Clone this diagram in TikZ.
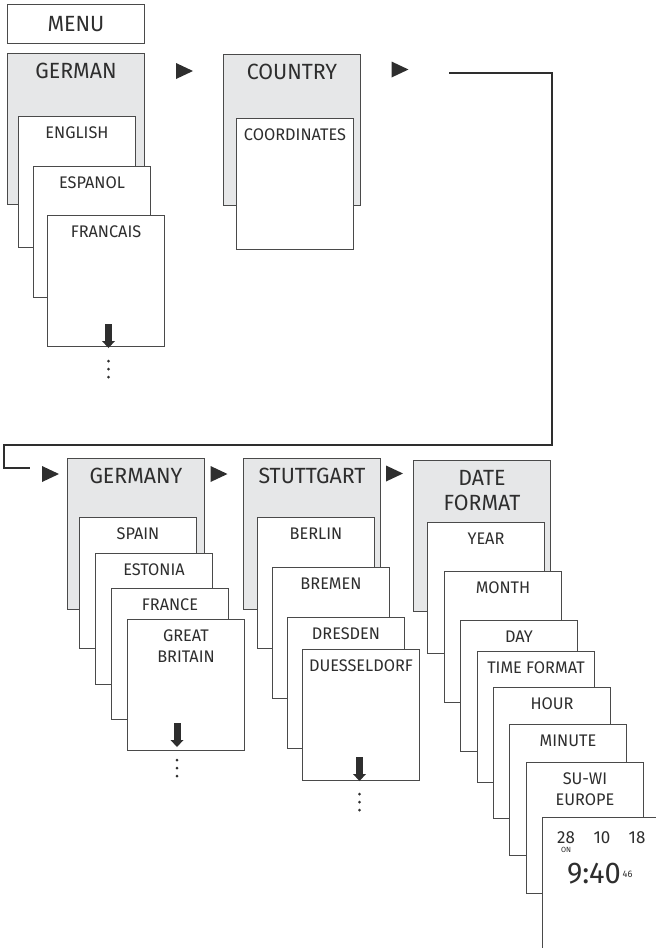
\documentclass[tikz,border=0pt]{standalone}
\usepackage{fontspec}
\setmainfont{Fira Sans}[FakeStretch=0.97]
\usetikzlibrary{positioning}
\definecolor{headgray}{HTML}{E6E7E8}
\definecolor{framegray}{HTML}{4A4A4A}
\definecolor{inkgray}{HTML}{2E2E2E}
\newcommand{\sheetSize}[0]{\fontsize{16.8}{21}\selectfont}
\newcommand{\headSize}[0]{\fontsize{22}{25}\selectfont}

\begin{document}
\begin{tikzpicture}[x=1pt, y=-1pt]
  \tikzset{
    menubox/.style={draw=framegray, line width=1pt, fill=white, minimum width=137pt, minimum height=39pt, inner sep=0pt, anchor=north west, font=\headSize, text=inkgray},
    headbox/.style={draw=framegray, line width=1pt, fill=headgray, minimum width=137pt, minimum height=151pt, inner sep=0pt, anchor=north west, label={[headtext]north:#1}},
    sheet/.style={draw=framegray, line width=1pt, fill=white, minimum width=117pt, minimum height=131pt, inner sep=0pt, anchor=north west, label={[sheettext]north:#1}},
    headtext/.style={anchor=north, inner sep=0pt, yshift=-10pt, align=center, font=\headSize, text=inkgray},
    sheettext/.style={anchor=north, inner sep=0pt, yshift=-11pt, align=center, font=\sheetSize, text=inkgray},
    wrapline/.style={draw=inkgray, line width=2pt},
    lcd/.style={anchor=base, inner sep=0pt, text=inkgray},
    pics/nexttri/.style={code={\fill[inkgray] (-8.5,-8) -- (8.5,0) -- (-8.5,8) -- cycle;}},
    pics/scrolldown/.style={code={
      \fill[inkgray] (-3.5,-24) rectangle (3.5,-6.5);
      \fill[inkgray] (-6.5,-7) -- (6.5,-7) -- (0,0) -- cycle;
      \foreach \d in {13,21,29} \fill[inkgray] (0,\d) circle (1.5pt);
    }}
  }
  \useasboundingbox (0,0) rectangle (656,948);

  % language
  \node[menubox] (menu) at (7,4) {MENU};
  \node[headbox=GERMAN] (german) at (7,53) {};
  \node[sheet=ENGLISH] (english) at (18,116) {};
  \node[sheet=ESPANOL] (espanol) at (33,166) {};
  \node[sheet=FRANCAIS] (francais) at (47,215) {};
  \pic at ([xshift=2.5pt, yshift=-1pt]francais.south) {scrolldown};

  % country
  \pic at (184.5,71) {nexttri};
  \node[headbox=COUNTRY] (country) at (223,54) {};
  \node[sheet=COORDINATES] (coords) at (236,118) {};
  \pic at (400,69.5) {nexttri};

  \coordinate (wrapA) at (449,73);
  \coordinate (wrapB) at (30,468);
  \draw[wrapline] (wrapA) -- (552,73) -- (552,445) -- (4,445) -- (4,468) -- (wrapB);

  % state
  \pic at (50.5,474) {nexttri};
  \node[headbox=GERMANY] (germany) at (67,458) {};
  \node[sheet=SPAIN] (spain) at (79,517) {};
  \node[sheet=ESTONIA] (estonia) at (95,553) {};
  \node[sheet=FRANCE] (france) at (111,588) {};
  \node[sheet={GREAT\\BRITAIN}] (britain) at (127,619) {};
  \pic at ([xshift=-9pt, yshift=4pt]britain.south) {scrolldown};

  % city
  \pic at (219,474) {nexttri};
  \node[headbox=STUTTGART] (stuttgart) at (243,458) {};
  \node[sheet=BERLIN] (berlin) at (257,517) {};
  \node[sheet=BREMEN] (bremen) at (272,567) {};
  \node[sheet=DRESDEN] (dresden) at (287,617) {};
  \node[sheet=DUESSELDORF] (duesseldorf) at (302,649) {};
  \pic at ([xshift=-1.5pt]duesseldorf.south) {scrolldown};

  % date and time
  \pic at (394.5,473.5) {nexttri};
  \node[headbox={DATE\\FORMAT}] (dateformat) at (413,460) {};
  \node[sheet=YEAR] (year) at (427,522) {};
  \node[sheet=MONTH] (month) at (444,571) {};
  \node[sheet=DAY] (day) at (460,620) {};
  \node[sheet={TIME FORMAT}] (timeformat) at (477,651) {};
  \node[sheet=HOUR] (hour) at (493,687) {};
  \node[sheet=MINUTE] (minute) at (509,724) {};
  \node[sheet={SU-WI\\EUROPE}] (suwi) at (526,762) {};
  \node[sheet=, minimum width=125pt, minimum height=140pt] (display) at (542,817) {};
  \node[lcd, font=\fontsize{17.5}{20}\selectfont] (dday) at (566,843) {28};
  \node[lcd, font=\fontsize{17.5}{20}\selectfont] (dmonth) at (602,843) {10};
  \node[lcd, font=\fontsize{17.5}{20}\selectfont] (dyear) at (637,843) {18};
  \node[lcd, font=\fontsize{7.5}{9}\selectfont] (don) at (566,852) {ON};
  \node[lcd, font=\fontsize{30}{32}\selectfont] (dtime) at (594,883) {9:40};
  \node[lcd, font=\fontsize{9.5}{11}\selectfont] (dsec) at (627.5,877) {46};
\end{tikzpicture}
\end{document}
